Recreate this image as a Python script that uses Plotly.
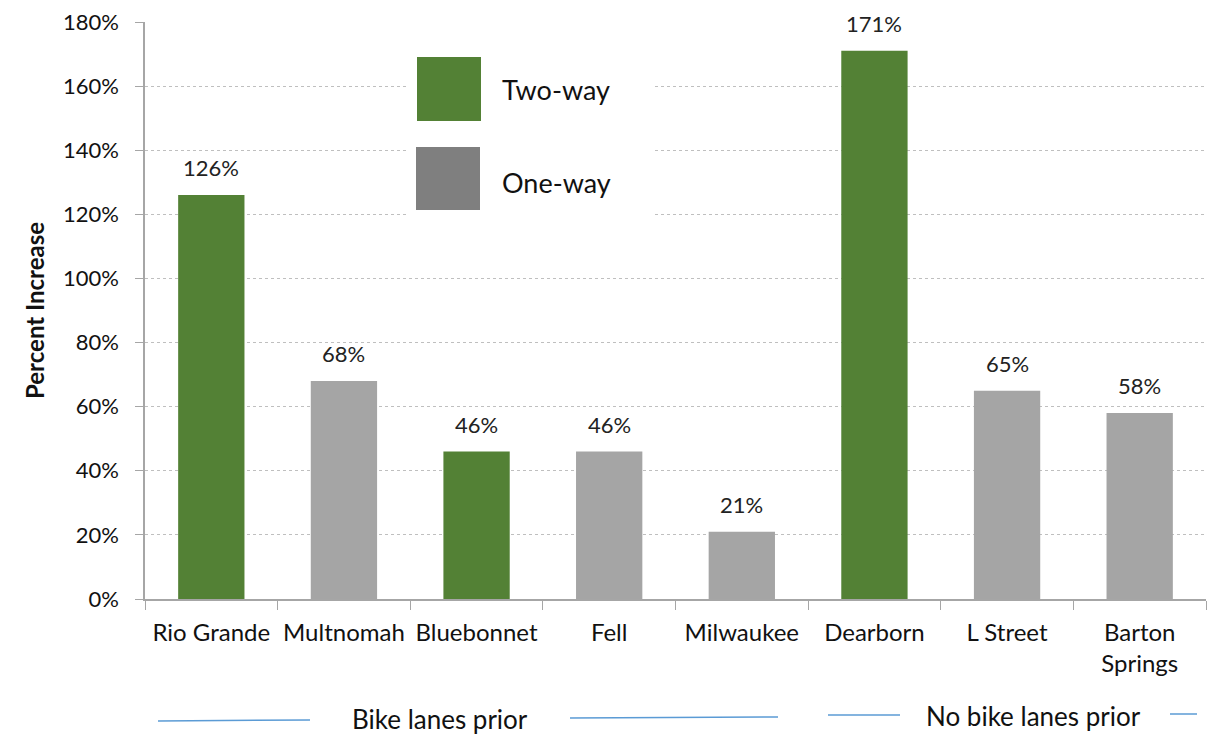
import plotly.graph_objects as go

categories = ["Rio Grande", "Multnomah", "Bluebonnet", "Fell", "Milwaukee",
              "Dearborn", "L Street", "Barton<br>Springs"]
values = [1.26, 0.68, 0.46, 0.46, 0.21, 1.71, 0.65, 0.58]
lane_type = ["Two-way", "One-way", "Two-way", "One-way", "One-way",
             "Two-way", "One-way", "One-way"]
value_labels = ["126%", "68%", "46%", "46%", "21%", "171%", "65%", "58%"]
y_ticks = [0, 0.2, 0.4, 0.6, 0.8, 1.0, 1.2, 1.4, 1.6, 1.8]
y_tick_labels = ["0%", "20%", "40%", "60%", "80%", "100%", "120%", "140%", "160%", "180%"]

GREEN = "#538135"
GRAY = "#A5A5A5"
LEG_GRAY = "#7F7F7F"
colors = [GREEN if t == "Two-way" else GRAY for t in lane_type]

FONT = "Lato, 'Open Sans', sans-serif"

fig = go.Figure()
fig.add_trace(go.Bar(
    x=categories, y=values, marker_color=colors, marker_line_width=0,
    width=0.5, showlegend=False, hoverinfo="x+y",
))

W, H = 1214, 735
L_s, R_s, T_s, B_s = 145, 1206, 22, 599  # plot area in screen pixels
L, R, T, B = L_s, W - R_s, T_s, H - B_s
pw, ph = W - L - R, H - T - B

def px(x):
    return (x - L) / pw

def py(y):
    return (H - B - y) / ph

shapes = []
shapes.append(dict(type="rect", xref="paper", yref="paper",
                   x0=px(408), x1=px(655), y0=py(216), y1=py(44),
                   fillcolor="white", line_width=0, layer="above"))
shapes.append(dict(type="rect", xref="paper", yref="paper",
                   x0=px(417), x1=px(481), y0=py(121), y1=py(57),
                   fillcolor=GREEN, line_width=0, layer="above"))
shapes.append(dict(type="rect", xref="paper", yref="paper",
                   x0=px(416), x1=px(480), y0=py(210), y1=py(147),
                   fillcolor=LEG_GRAY, line_width=0, layer="above"))
BLUE = "#5B9BD5"
for x0, y0, x1, y1 in [(158, 721, 310, 720), (570, 718, 778, 717),
                       (828, 715, 900, 715), (1170, 714, 1197, 714)]:
    shapes.append(dict(type="line", xref="paper", yref="paper",
                       x0=px(x0), x1=px(x1), y0=py(y0), y1=py(y1),
                       line=dict(color=BLUE, width=1.5)))

annotations = [
    dict(text="Two-way", xref="paper", yref="paper", x=px(500), y=py(89),
         xanchor="left", yanchor="middle", showarrow=False,
         font=dict(size=27, color="#111111", family=FONT)),
    dict(text="One-way", xref="paper", yref="paper", x=px(500), y=py(182),
         xanchor="left", yanchor="middle", showarrow=False,
         font=dict(size=27, color="#111111", family=FONT)),
    dict(text="Bike lanes prior", xref="paper", yref="paper", x=px(440), y=py(719),
         xanchor="center", yanchor="middle", showarrow=False,
         font=dict(size=26, color="#111111", family=FONT)),
    dict(text="No bike lanes prior", xref="paper", yref="paper", x=px(1033), y=py(716),
         xanchor="center", yanchor="middle", showarrow=False,
         font=dict(size=26, color="#111111", family=FONT)),
]
for c, v, lab in zip(categories, values, value_labels):
    annotations.append(dict(x=c, y=v, xref="x", yref="y", text=lab,
                            showarrow=False, yanchor="bottom", yshift=12,
                            font=dict(size=22, color="#222222", family=FONT)))

fig.update_layout(
    width=W, height=H,
    margin=dict(l=L, r=R, t=T, b=B, pad=0),
    plot_bgcolor="white", paper_bgcolor="white",
    shapes=shapes, annotations=annotations,
    font=dict(family=FONT, color="#111111"),
    bargap=0.5,
)
fig.update_yaxes(
    range=[0, 1.8], tickvals=y_ticks, ticktext=y_tick_labels,
    showgrid=True, gridcolor="#BFBFBF", griddash="dot", gridwidth=1,
    showline=True, linecolor="#A6A6A6", linewidth=1.5,
    ticks="outside", ticklen=8, tickcolor="#A6A6A6",
    ticklabelstandoff=12, ticklabeloverflow="allow",
    tickfont=dict(size=22, color="#111111"),
    title=dict(text="<b>Percent Increase</b>", font=dict(size=24, color="#111111"), standoff=12),
    zeroline=False,
)
fig.update_xaxes(
    showline=True, linecolor="#A6A6A6", linewidth=1.5,
    ticks="outside", ticklen=9, tickcolor="#A6A6A6", tickson="boundaries",
    ticklabelstandoff=11,
    tickfont=dict(size=24, color="#111111"),
)

fig.write_html(
    "out.html",
    config={"displayModeBar": False},
    post_script="document.body.style.margin='0';document.body.style.overflow='hidden';"
                "document.documentElement.style.overflow='hidden';",
)
